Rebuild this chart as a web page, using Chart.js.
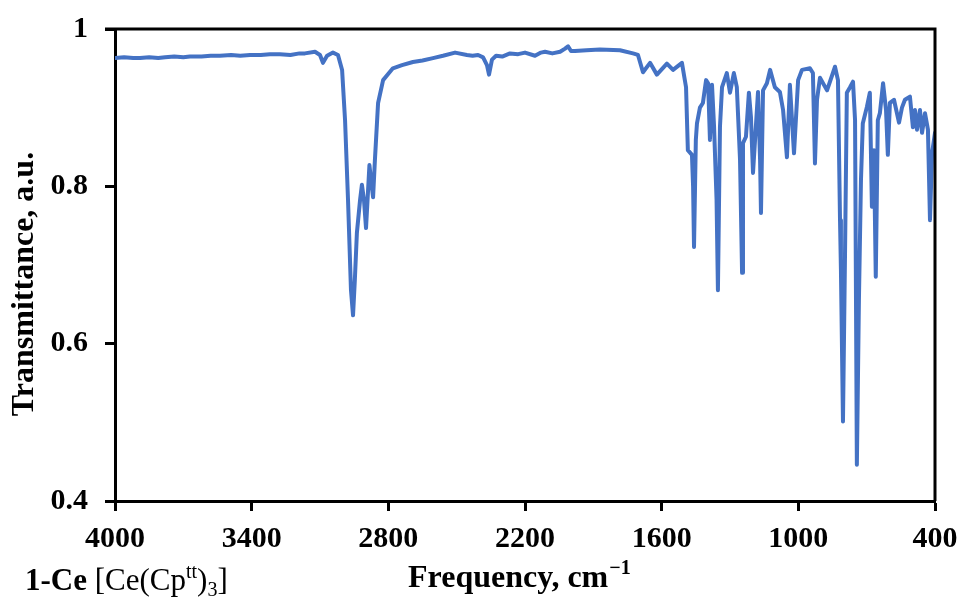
<!DOCTYPE html>
<html>
<head>
<meta charset="utf-8">
<script src="https://cdn.jsdelivr.net/npm/chart.js@4.4.0/dist/chart.umd.min.js"></script>
<style>
    html, body { margin: 0; padding: 0; background: #fff; }
</style>
</head>
<body>
<canvas id="myChart" width="965" height="601"></canvas>
<script>
// IR spectrum (cm-1 -> transmittance)
const wavenumbers = [
    4000, 3960, 3920, 3890, 3850, 3810, 3780, 3740, 3700, 3671, 3620, 3580, 3539, 3490,
    3450, 3407, 3360, 3320, 3276, 3230, 3190, 3166, 3122, 3100, 3087, 3069, 3043, 3021,
    3003, 2990, 2977, 2964, 2955, 2947, 2938, 2924, 2916, 2907, 2898, 2889, 2883, 2876,
    2867, 2859, 2845, 2823, 2800, 2780, 2740, 2692, 2650, 2604, 2560, 2507, 2455, 2430, 2406, 2384, 2367, 2358, 2345,
    2327, 2300, 2266, 2230, 2200, 2156, 2130, 2112, 2080, 2046, 2024, 2011, 1998, 1981, 1930, 1871, 1783, 1726, 1704,
    1682, 1651, 1621, 1577, 1550, 1511, 1493, 1485, 1467, 1462, 1458, 1450, 1445, 1432,
    1419, 1405, 1396, 1388, 1379, 1370, 1359, 1353, 1344, 1335, 1314, 1300, 1283, 1270,
    1256, 1247, 1243, 1230, 1217, 1208, 1199, 1177, 1168, 1164, 1155, 1138, 1124, 1103,
    1081, 1067, 1050, 1037, 1019, 1001, 984, 949, 936, 927,
    918, 905, 874, 839, 826, 817, 813, 804, 795, 787, 773, 760, 751, 743,
    734, 725, 717, 699, 686, 677, 668, 660, 651, 642, 628, 615, 607, 598,
    580, 558, 545, 532, 510, 497, 488, 479, 466, 457, 444, 431, 422, 413, 400
];
const transmittance = [
    0.963, 0.964, 0.963, 0.963, 0.964, 0.963, 0.964, 0.965, 0.964, 0.965, 0.965, 0.966, 0.966, 0.967,
    0.966, 0.967, 0.967, 0.968, 0.968, 0.967, 0.969, 0.969, 0.971, 0.967, 0.957, 0.966, 0.970, 0.967,
    0.948, 0.884, 0.783, 0.668, 0.636, 0.681, 0.741, 0.783, 0.802, 0.783, 0.747, 0.795, 0.827, 0.808,
    0.786, 0.833, 0.906, 0.935, 0.943, 0.950, 0.954, 0.958, 0.960, 0.963, 0.966, 0.970, 0.967, 0.966, 0.967, 0.964, 0.954, 0.942, 0.961,
    0.966, 0.965, 0.969, 0.968, 0.970, 0.966, 0.970, 0.971, 0.969, 0.971, 0.975, 0.978, 0.972, 0.972, 0.973, 0.974, 0.973, 0.969, 0.967,
    0.945, 0.957, 0.942, 0.956, 0.948, 0.957, 0.926, 0.846, 0.840, 0.800, 0.723, 0.859, 0.880, 0.900,
    0.906, 0.935, 0.931, 0.859, 0.929, 0.876, 0.783, 0.668, 0.876, 0.926, 0.944, 0.919, 0.944, 0.926,
    0.834, 0.690, 0.855, 0.863, 0.919, 0.888, 0.817, 0.920, 0.834, 0.766, 0.922, 0.931, 0.948, 0.926,
    0.920, 0.897, 0.837, 0.929, 0.842, 0.935, 0.948, 0.950, 0.944, 0.829,
    0.910, 0.938, 0.922, 0.952, 0.935, 0.757, 0.694, 0.501, 0.715, 0.919, 0.926, 0.933, 0.884, 0.446,
    0.656, 0.808, 0.880, 0.901, 0.919, 0.774, 0.846, 0.685, 0.884, 0.893, 0.931, 0.897, 0.840, 0.906,
    0.910, 0.881, 0.900, 0.910, 0.914, 0.875, 0.897, 0.872, 0.897, 0.868, 0.893, 0.872, 0.757, 0.842, 0.868
];

const xMin = 400, xMax = 4000, xStep = 600;
const yMin = 0.4, yMax = 1, yStep = 0.2;

const serif = '"Liberation Serif", "Times New Roman", serif';

const points = wavenumbers.map((w, i) => ({ x: w, y: transmittance[i] }));

// frame on top/right + axis titles and sample label
const decorations = {
    id: 'decorations',
    afterDraw(chart) {
        const { ctx, chartArea: a } = chart;
        ctx.save();
        ctx.strokeStyle = '#000';
        ctx.lineWidth = 3;
        ctx.beginPath();
        ctx.moveTo(a.left - 10, a.top);
        ctx.lineTo(a.right, a.top);
        ctx.lineTo(a.right, a.bottom);
        ctx.stroke();

        ctx.fillStyle = '#000';
        ctx.textBaseline = 'alphabetic';

        // x title
        ctx.font = 'bold 32px ' + serif;
        let x = 408;
        ctx.fillText('Frequency, cm', x, 587);
        x += ctx.measureText('Frequency, cm').width + 1;
        ctx.font = 'bold 20px ' + serif;
        ctx.fillText('\u22121', x, 574);

        // y title
        ctx.save();
        ctx.translate(33, 284);
        ctx.rotate(-Math.PI / 2);
        ctx.textAlign = 'center';
        ctx.font = 'bold 32px ' + serif;
        ctx.fillText('Transmittance, a.u.', 0, 0);
        ctx.restore();

        // sample label
        x = 25;
        const base = 590;
        ctx.font = 'bold 31px ' + serif;
        ctx.fillText('1-Ce ', x, base);
        x += ctx.measureText('1-Ce ').width;
        ctx.font = '31px ' + serif;
        ctx.fillText('[Ce(Cp', x, base);
        x += ctx.measureText('[Ce(Cp').width;
        ctx.font = '20px ' + serif;
        ctx.fillText('tt', x, base - 12);
        x += ctx.measureText('tt').width;
        ctx.font = '31px ' + serif;
        ctx.fillText(')', x, base);
        x += ctx.measureText(')').width;
        ctx.font = '20px ' + serif;
        ctx.fillText('3', x, base + 6);
        x += ctx.measureText('3').width;
        ctx.font = '31px ' + serif;
        ctx.fillText(']', x, base);
        ctx.restore();
    }
};

new Chart(document.getElementById('myChart'), {
    type: 'line',
    data: {
        datasets: [{
            data: points,
            borderColor: '#4472C4',
            borderWidth: 4,
            borderJoinStyle: 'round',
            borderCapStyle: 'round',
            pointRadius: 0,
            tension: 0,
            fill: false
        }]
    },
    options: {
        responsive: false,
        animation: false,
        layout: { padding: { top: 29, right: 30, left: 0, bottom: 0 } },
        plugins: {
            legend: { display: false },
            tooltip: { enabled: false }
        },
        scales: {
            x: {
                type: 'linear',
                reverse: true,
                min: xMin,
                max: xMax,
                ticks: {
                    stepSize: xStep,
                    color: '#000',
                    padding: 10,
                    maxRotation: 0,
                    autoSkip: false,
                    font: { family: serif, size: 30, weight: 'bold' },
                    callback: v => String(Math.round(v))
                },
                grid: { drawOnChartArea: false, tickLength: 10, tickWidth: 3, tickColor: '#000' },
                border: { color: '#000', width: 3 },
                afterFit(s) {
                    s.height = 100;
                    s.paddingLeft = 0;
                    s.paddingRight = 0;
                }
            },
            y: {
                min: yMin,
                max: yMax,
                ticks: {
                    stepSize: yStep,
                    color: '#000',
                    padding: 17,
                    font: { family: serif, size: 30, weight: 'bold' },
                    callback: v => String(Math.round(v * 10) / 10)
                },
                grid: { drawOnChartArea: false, tickLength: 10, tickWidth: 3, tickColor: '#000' },
                border: { color: '#000', width: 3 },
                afterFit(s) {
                    s.width = 115;
                    s.paddingTop = 0;
                    s.paddingBottom = 0;
                }
            }
        }
    },
    plugins: [decorations]
});
</script>
</body>
</html>
